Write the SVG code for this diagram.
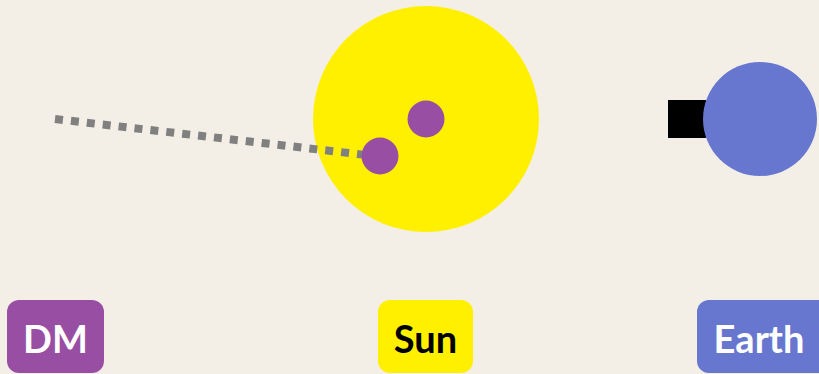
<svg xmlns="http://www.w3.org/2000/svg" width="819" height="374" viewBox="0 0 819 374">
<style>
.lbl{font-family:Lato,"Liberation Sans",sans-serif;font-weight:bold;font-size:38px;text-anchor:middle}
.dm{fill:#984ea3}
.sun{fill:#fff000}
.earth{fill:#6777cf}
</style>
<rect width="819" height="374" fill="#f3efe6"/>
<g id="sun">
<circle cx="426" cy="119" r="113" class="sun"/>
</g>
<g id="connectors">
<line x1="55" y1="119" x2="366" y2="155" stroke="#808080" stroke-width="8" stroke-dasharray="8 8"/>
</g>
<g id="dm-particles">
<circle cx="426" cy="119" r="18.5" class="dm"/>
<circle cx="380" cy="156" r="18.5" class="dm"/>
</g>
<g id="earth">
<rect x="668" y="100" width="38" height="38" fill="#000"/>
<circle cx="760" cy="119" r="57" class="earth"/>
</g>
<g id="label-dm">
<rect x="7" y="300" width="97" height="73" rx="12" class="dm"/>
<text x="55.5" y="353" class="lbl" fill="#fff">DM</text>
</g>
<g id="label-sun">
<rect x="378" y="300" width="95" height="73" rx="12" class="sun"/>
<text x="425.5" y="353" class="lbl" fill="#000">Sun</text>
</g>
<g id="label-earth">
<rect x="697" y="300" width="134" height="73" rx="12" class="earth"/>
<text x="759" y="353" class="lbl" fill="#fff">Earth</text>
</g>
</svg>
